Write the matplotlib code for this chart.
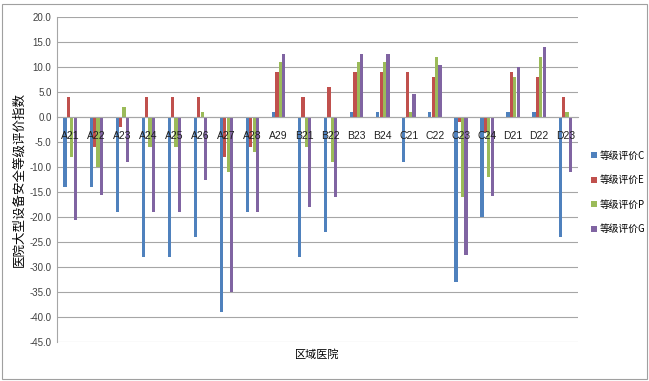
import matplotlib.pyplot as plt
import numpy as np
from matplotlib.patches import Rectangle

plt.rcParams['font.family'] = ['Noto Sans CJK SC', 'DejaVu Sans']

hospitals = ['A21', 'A22', 'A23', 'A24', 'A25', 'A26', 'A27', 'A28', 'A29',
             'B21', 'B22', 'B23', 'B24', 'C21', 'C22', 'C23', 'C24',
             'D21', 'D22', 'D23']
grade_c = [-14, -14, -19, -28, -28, -24, -39, -19, 1,
           -28, -23, 1, 1, -9, 1, -33, -20, 1, 1, -24]
grade_e = [4, -6, -2, 4, 4, 4, -8, -6, 9,
           4, 6, 9, 9, 9, 8, -1, -3, 9, 8, 4]
grade_p = [-8, -10, 2, -6, -6, 1, -11, -7, 11,
           -6, -9, 11, 11, 1, 12, -16, -12, 8, 12, 1]
grade_g = [-20.5, -15.5, -9, -19, -19, -12.5, -35, -19, 12.6,
           -18, -16, 12.6, 12.6, 4.6, 10.5, -27.5, -15.8, 10, 14, -11]

series = [('等级评价C', grade_c, '#4F81BD'),
          ('等级评价E', grade_e, '#C0504D'),
          ('等级评价P', grade_p, '#9BBB59'),
          ('等级评价G', grade_g, '#8064A2')]

fig = plt.figure(figsize=(6.49, 3.81), dpi=100)
ax = fig.add_axes([0.088, 0.102, 0.803, 0.853])

x = np.arange(len(hospitals))
w = 0.13
for i, (name, vals, col) in enumerate(series):
    ax.bar(x + (i - 1.5) * w, vals, width=w * 0.95, color=col, label=name, zorder=2)

ax.set_xlim(-0.5, len(hospitals) - 0.5)
ax.set_ylim(-45, 20)
ax.set_yticks(np.arange(-45, 21, 5))
ax.set_yticklabels(['%.1f' % v for v in np.arange(-45, 21, 5)], fontsize=7,
                   family=['Liberation Sans', 'DejaVu Sans'])
ax.yaxis.grid(True, color='#a6a6a6', linewidth=0.8)
ax.tick_params(axis='y', length=0, pad=4, colors='#404040')
# gridlines behind the bars, category labels on top of them
ax.yaxis.set_zorder(0.5)
ax.xaxis.set_zorder(4)

# category axis sits on the zero line
ax.spines['bottom'].set_position(('data', 0))
ax.spines['bottom'].set_color('#a6a6a6')
ax.set_xticks(x)
ax.set_xticklabels(hospitals, fontsize=7.5, family=['Liberation Sans', 'DejaVu Sans'])
ax.tick_params(axis='x', length=0, pad=10, colors='#202020')
for s in ['top', 'right']:
    ax.spines[s].set_visible(False)
ax.spines['left'].set_color('#a6a6a6')

ax.set_ylabel('医院大型设备安全等级评价指数', fontsize=9, labelpad=3)
fig.text(0.489, 0.07, '区域医院', fontsize=8, ha='center', va='center')

fig.legend(loc='upper left', bbox_to_anchor=(0.905, 0.615), frameon=False,
           fontsize=7, handlelength=0.6, handleheight=0.6, handletextpad=0.3,
           labelspacing=1.5, borderaxespad=0)

fig.patches.append(Rectangle((0.003, 0.005), 0.994, 0.985, transform=fig.transFigure,
                             fill=False, edgecolor='#a0a0a0', linewidth=0.8))

fig.savefig('out.png', dpi=100)
